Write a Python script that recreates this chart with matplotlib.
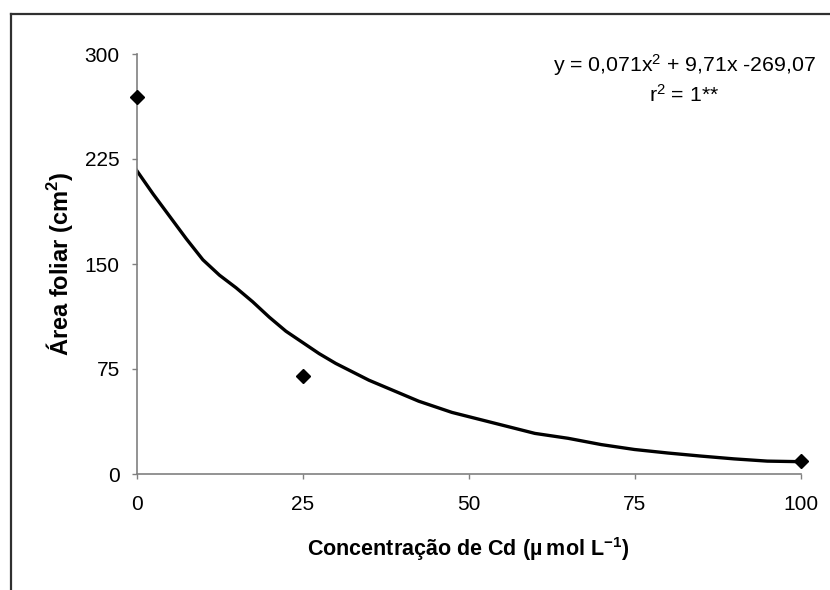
import matplotlib
matplotlib.use("Agg")
import matplotlib.pyplot as plt
from matplotlib.lines import Line2D

plt.rcParams['font.family'] = ['Liberation Sans', 'DejaVu Sans']
plt.rcParams['mathtext.fontset'] = 'custom'
plt.rcParams['mathtext.rm'] = 'Liberation Sans'
plt.rcParams['mathtext.bf'] = 'Liberation Sans:bold'
plt.rcParams['mathtext.it'] = 'Liberation Sans:italic'

# observed points
obs_x = [0, 25, 100]
obs_y = [269, 70, 9]

# fitted curve
fit_x = [0, 2.5, 5, 7.5, 10, 12.5, 15, 17.5, 20, 22.5, 25, 27.5, 30, 32.5, 35, 37.5,
         40, 42.5, 45, 47.5, 50, 55, 60, 65, 70, 75, 80, 85, 90, 95, 100]
fit_y = [217, 200, 184, 168, 153, 142, 133, 123, 112, 102, 94, 86, 79, 73, 67, 62,
         57, 52, 48, 44, 41, 35, 29, 25.5, 21, 17.5, 15, 12.8, 10.8, 9.2, 8.8]

x_ticks = [0, 25, 50, 75, 100]
y_ticks = [0, 75, 150, 225, 300]

W, H = 830, 590
fig = plt.figure(figsize=(W / 100, H / 100), dpi=100)
ax = fig.add_axes([136.5 / W, 1 - 474 / H, 664 / W, 420 / H])

ax.plot(fit_x, fit_y, color='black', lw=2.4, solid_joinstyle='round', zorder=2)
ax.plot(obs_x, obs_y, linestyle='none', marker='D', markersize=7, color='black',
        clip_on=False, zorder=3)

ax.set_xlim(0, 100)
ax.set_ylim(0, 300)
ax.set_xticks(x_ticks)
ax.set_yticks(y_ticks)
ax.tick_params(axis='both', direction='out', length=3.6, width=1, color='#808080',
               labelsize=15)
ax.tick_params(axis='y', pad=8.5)
ax.tick_params(axis='x', pad=11.5)

for s in ['top', 'right']:
    ax.spines[s].set_visible(False)
for s in ['left', 'bottom']:
    ax.spines[s].set_color('#808080')
    ax.spines[s].set_linewidth(1.2)

ax.set_xlabel('Concentração de Cd (µ\u2009mol L$^{\\mathbf{-1}}$)', fontsize=15.5,
              fontweight='bold', labelpad=15)
ax.set_ylabel(r'Área foliar (cm$^{\mathbf{2}}$)', fontsize=17,
              fontweight='bold', labelpad=7)

fig.text(684 / W, 1 - 65 / H, r'y = 0,071x$^{\mathrm{2}}$ + 9,71x -269,07',
         ha='center', va='center', fontsize=15.3)
fig.text(684 / W, 1 - 95 / H, r'r$^{\mathrm{2}}$ = 1**',
         ha='center', va='center', fontsize=15.3)

# outer frame (left and top edges visible)
fig.add_artist(Line2D([11 / W, 11 / W], [-0.1, 1 - 14 / H], transform=fig.transFigure,
                      color='#303030', lw=1.6))
fig.add_artist(Line2D([11 / W, 1.1], [1 - 14 / H, 1 - 14 / H], transform=fig.transFigure,
                      color='#303030', lw=1.6))

fig.savefig('out.png', dpi=100)
